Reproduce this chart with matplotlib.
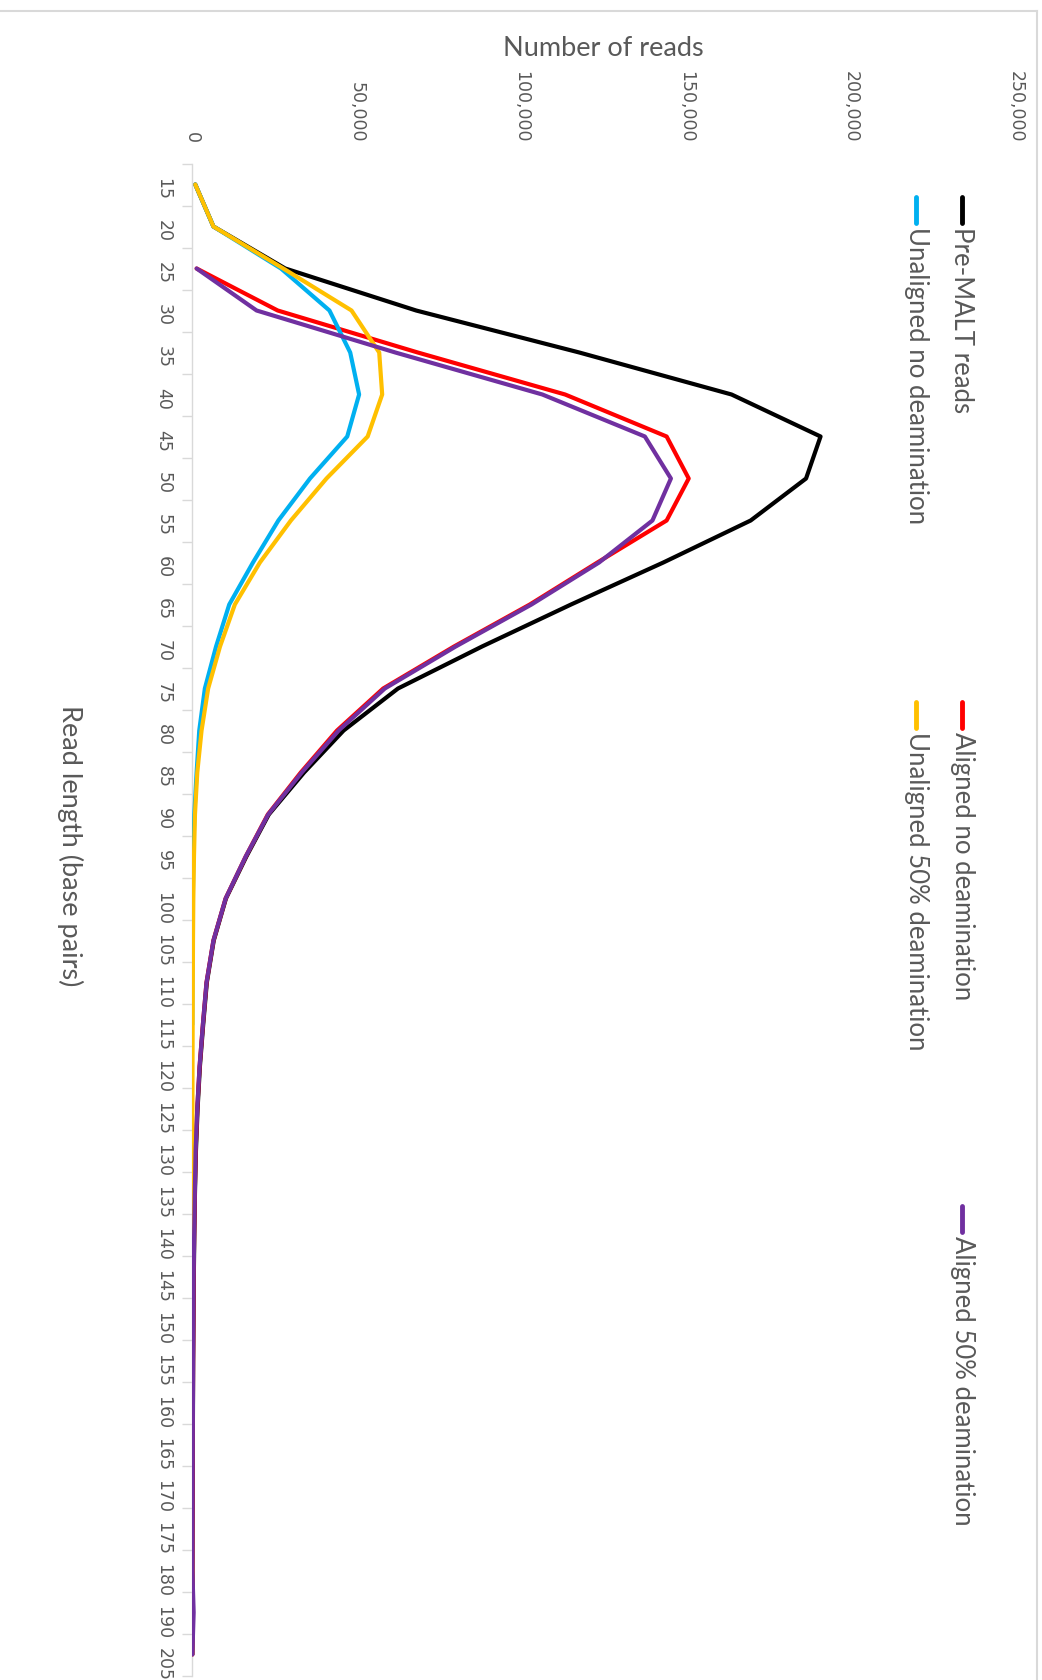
import numpy as np
import matplotlib
matplotlib.use("Agg")
import matplotlib.pyplot as plt
from matplotlib.lines import Line2D

nan = np.nan

# read length bins (base pairs)
read_lengths = [15, 20, 25, 30, 35, 40, 45, 50, 55, 60, 65, 70, 75, 80, 85, 90, 95,
                100, 105, 110, 115, 120, 125, 130, 135, 140, 145, 150, 155, 160,
                165, 170, 175, 180, 190, 205]

pre_malt = [1000, 6500, 28300, 68000, 117500, 163700, 190700, 186300, 169500, 143000,
            115000, 88000, 62500, 46000, 34000, 23300, 16500, 10300, 6600, 4500,
            3400, 2400, 1700, 1200, 900, 700, 550, 450, 350, 300, 250, 200, 150, 120,
            200, 100]

aligned_no_deam = [nan, nan, 1400, 26000, 68500, 113200, 144000, 150700, 144000, 123000,
                   102500, 79500, 58000, 44000, 33000, 23000, 16300, 10200, 6500, 4400,
                   3300, 2300, 1600, 1100, 850, 650, 500, 420, 330, 280, 230, 180, 140,
                   110, 190, 90]

aligned_50_deam = [nan, nan, 1400, 19600, 61700, 106300, 137400, 145300, 139700, 123500,
                   103000, 80000, 58500, 44500, 33300, 23100, 16300, 10200, 6500, 4400,
                   3300, 2300, 1600, 1100, 850, 650, 500, 420, 330, 280, 230, 180, 140,
                   110, 500, 100]

unaligned_no_deam = [1000, 6500, 27000, 41700, 48000, 50700, 47100, 35800, 26200, 18500,
                     11300, 7300, 3900, 2200, 1400, 700, 400, 250, 150, 100,
                     80, nan, nan, nan, nan, nan, nan, nan, nan, nan, nan, nan, nan,
                     nan, nan, nan]

unaligned_50_deam = [1000, 6500, 27700, 48400, 56800, 57700, 53300, 40800, 30000, 20600,
                     13000, 8500, 4900, 2900, 1600, 900, 600, 400, 300, 250,
                     200, 150, 120, 100, 80, 60, 50, nan, 40, 30, nan, nan, nan,
                     nan, nan, nan]

# (label, values, colour, draw order)
series = [
    ("Pre-MALT reads", pre_malt, "#000000", 2),
    ("Aligned no deamination", aligned_no_deam, "#FF0000", 3),
    ("Aligned 50% deamination", aligned_50_deam, "#7030A0", 6),
    ("Unaligned no deamination", unaligned_no_deam, "#00B0F0", 4),
    ("Unaligned 50% deamination", unaligned_50_deam, "#FFC000", 5),
]

value_ticks = [0, 50000, 100000, 150000, 200000, 250000]

W, H = 1042, 1680
GREY = "#595959"
AXIS_GREY = "#D9D9D9"
TITLE_FONT = ["Lato", "DejaVu Sans"]

fig = plt.figure(figsize=(W / 100, H / 100), dpi=100)

# chart is laid out sideways: read length runs down, read counts run right
left, right = 192 / W, 1016 / W
top, bottom = 163.5 / H, 1675.5 / H
ax = fig.add_axes([left, 1 - bottom, right - left, bottom - top])

pos = np.arange(len(read_lengths))
for name, vals, col, z in series:
    ax.plot(vals, pos, color=col, lw=3, solid_joinstyle="round",
            solid_capstyle="round", zorder=z)

ax.set_xlim(0, 250000)
ax.set_ylim(len(read_lengths) - 0.5, -0.5)

ax.xaxis.tick_top()
ax.set_xticks(value_ticks)
ax.set_xticklabels([f"{v:,}" for v in value_ticks], rotation=-90)
ax.tick_params(axis="x", length=0, pad=15, labelsize=12.5, labelcolor=GREY)

ax.set_yticks(pos)
ax.set_yticklabels([str(r) for r in read_lengths], rotation=-90)
ax.tick_params(axis="y", which="major", length=0, pad=14, labelsize=12.5,
               labelcolor=GREY)
ax.set_yticks(np.arange(-0.5, len(read_lengths)), minor=True)
ax.tick_params(axis="y", which="minor", length=7, width=1, color=AXIS_GREY,
               direction="out")

for side in ["top", "right", "bottom"]:
    ax.spines[side].set_visible(False)
ax.spines["left"].set_color(AXIS_GREY)
ax.spines["left"].set_linewidth(1)

# axis titles
fig.text(603 / W, 1 - 48 / H, "Number of reads", ha="center", va="center",
         fontsize=19.5, color=GREY, family=TITLE_FONT)
fig.text(70 / W, 1 - 846 / H, "Read length (base pairs)", ha="center",
         va="center", rotation=-90, fontsize=19.5, color=GREY, family=TITLE_FONT)

# legend, two columns of entries reading top to bottom
legend_slots = [(962, 197), (962, 702), (962, 1206), (916, 197), (916, 702)]
for (name, vals, col, z), (lx, ly) in zip(series, legend_slots):
    fig.add_artist(Line2D([lx / W, lx / W], [1 - ly / H, 1 - (ly + 26) / H],
                          color=col, lw=3.5, solid_capstyle="round"))
    fig.text(lx / W, 1 - (ly + 30) / H, name, ha="center", va="top",
             rotation=-90, fontsize=18.5, color=GREY, family=TITLE_FONT)

# chart area border
fig.add_artist(Line2D([0, 1037 / W], [1 - 11 / H, 1 - 11 / H], color=AXIS_GREY, lw=1.5))
fig.add_artist(Line2D([1037 / W, 1037 / W], [1 - 11 / H, 0], color=AXIS_GREY, lw=1.5))

fig.savefig("out.png", dpi=100, facecolor="white")
